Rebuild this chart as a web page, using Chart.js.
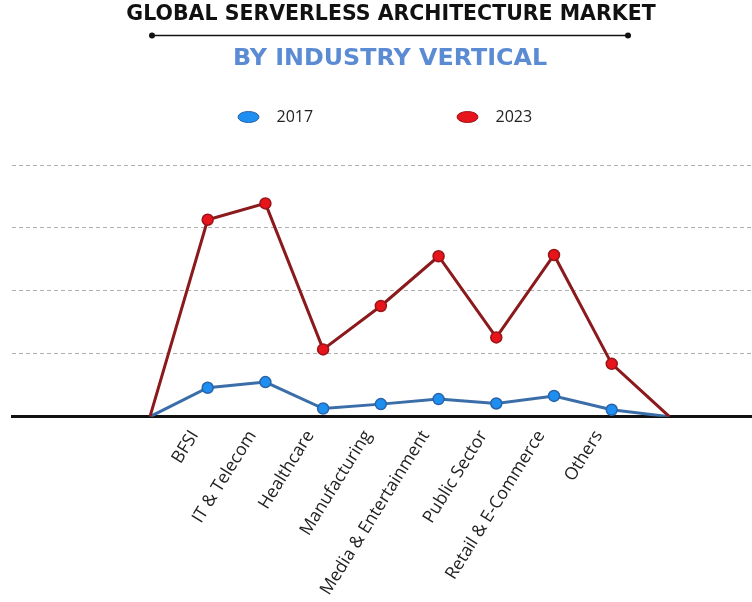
<!DOCTYPE html>
<html><head><meta charset="utf-8">
<script src="https://cdn.jsdelivr.net/npm/chart.js@4.4.0/dist/chart.umd.min.js"></script>
<style>html,body{margin:0;padding:0;background:#fff;}#wrap{width:752px;height:602px;position:relative}</style>
</head><body><div id="wrap"><canvas id="c" width="752" height="602"></canvas></div>
<script>
const categories = ['', 'BFSI', 'IT & Telecom', 'Healthcare', 'Manufacturing', 'Media & Entertainment', 'Public Sector', 'Retail & E-Commerce', 'Others', ''];
const values2017 = [0, 0.46, 0.55, 0.13, 0.20, 0.28, 0.21, 0.33, 0.11, 0];
const values2023 = [0, 3.13, 3.39, 1.07, 1.76, 2.55, 1.26, 2.57, 0.84, 0];
const seriesLabels = ['2017', '2023'];
const yTicks = [0, 1, 2, 3, 4];
const titleText = 'GLOBAL SERVERLESS ARCHITECTURE MARKET';
const subtitleText = 'BY INDUSTRY VERTICAL';

const headerPlugin = {
  id: 'header',
  afterDraw(chart) {
    const ctx = chart.ctx;
    ctx.save();
    ctx.textAlign = 'center';
    ctx.textBaseline = 'middle';
    ctx.fillStyle = '#111';
    ctx.font = 'bold 20.5px "DejaVu Sans"';
    ctx.fillText(titleText, 391, 15);
    ctx.strokeStyle = '#111';
    ctx.lineWidth = 1.5;
    ctx.beginPath(); ctx.moveTo(152, 35.5); ctx.lineTo(628, 35.5); ctx.stroke();
    [152, 628].forEach(x => { ctx.beginPath(); ctx.arc(x, 35.5, 3, 0, Math.PI * 2); ctx.fill(); });
    ctx.fillStyle = '#5b8bd3';
    ctx.font = 'bold 23.8px "DejaVu Sans"';
    ctx.fillText(subtitleText, 390, 59);
    // legend
    const ds = chart.data.datasets;
    const lx = [248.5, 467.5];
    ds.forEach((d, i) => {
      ctx.fillStyle = d.pointBackgroundColor;
      ctx.strokeStyle = d.pointBorderColor;
      ctx.lineWidth = 1;
      ctx.beginPath(); ctx.ellipse(lx[i], 117, 10.5, 5.5, 0, 0, Math.PI * 2); ctx.fill(); ctx.stroke();
      ctx.fillStyle = '#222';
      ctx.textAlign = 'left';
      ctx.font = '16px "Open Sans"';
      ctx.fillText(d.label, lx[i] + 28, 117);
    });
    ctx.restore();
  }
};

const hideEnds = (ctx) => (ctx.dataIndex === 0 || ctx.dataIndex === categories.length - 1) ? 0 : 5.5;

new Chart(document.getElementById('c'), {
  type: 'line',
  data: {
    datasets: [
      { label: seriesLabels[0], data: values2017.map((v, i) => ({ x: i, y: v })),
        borderColor: '#3b6ea8', backgroundColor: '#1e8ff0', pointBackgroundColor: '#1e8ff0', pointBorderColor: '#2a64a8',
        borderWidth: 3, pointRadius: hideEnds, pointBorderWidth: 1.5, tension: 0, order: 2 },
      { label: seriesLabels[1], data: values2023.map((v, i) => ({ x: i, y: v })),
        borderColor: '#8a1a1c', backgroundColor: '#e8141c', pointBackgroundColor: '#e8141c', pointBorderColor: '#9a1518',
        borderWidth: 3, pointRadius: hideEnds, pointBorderWidth: 1.5, tension: 0, order: 1 }
    ]
  },
  options: {
    responsive: false,
    animation: false,
    layout: { padding: { left: 12, right: 0, top: 165, bottom: -7 } },
    plugins: { legend: { display: false }, title: { display: false }, tooltip: { enabled: false } },
    scales: {
      x: {
        type: 'linear', min: -2.39, max: 10.43,
        afterBuildTicks: s => { s.ticks = categories.map((c, i) => ({ value: i })).filter(t => categories[t.value] !== ''); },
        ticks: { callback: v => categories[v], autoSkip: false, maxRotation: 58, minRotation: 58,
          font: { family: 'Open Sans', size: 17.5 }, color: '#222', padding: 10, labelOffset: -13 },
        grid: { display: false, drawTicks: false },
        border: { display: true, color: '#111', width: 3 }
      },
      y: {
        min: 0, max: 4,
        afterBuildTicks: s => { s.ticks = yTicks.map(v => ({ value: v })); },
        ticks: { display: false },
        grid: { color: '#b0b0b0', lineWidth: 1, drawTicks: false },
        border: { display: false, dash: [4, 3] }
      }
    }
  },
  plugins: [headerPlugin]
});
</script></body></html>
